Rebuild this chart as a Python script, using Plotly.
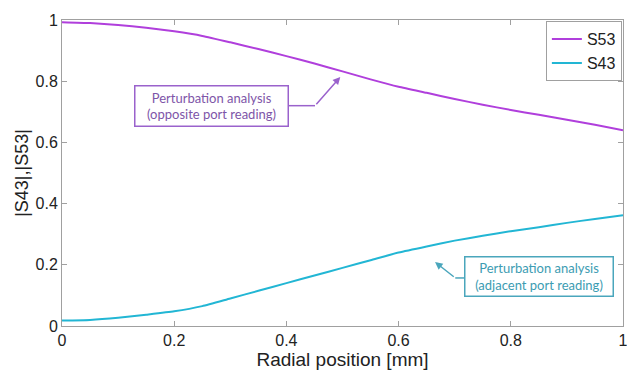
import plotly.graph_objects as go

x_mm = [0, 0.05, 0.1, 0.15, 0.2, 0.25, 0.3, 0.35, 0.4, 0.45, 0.5,
        0.55, 0.6, 0.65, 0.7, 0.75, 0.8, 0.85, 0.9, 0.95, 1.0]
s53 = [0.993, 0.990, 0.984, 0.975, 0.963, 0.948, 0.927, 0.905, 0.882, 0.858, 0.832,
       0.806, 0.782, 0.762, 0.742, 0.723, 0.706, 0.690, 0.674, 0.658, 0.640]
s43 = [0.018, 0.020, 0.027, 0.037, 0.048, 0.065, 0.090, 0.115, 0.140, 0.165, 0.190,
       0.215, 0.240, 0.260, 0.279, 0.295, 0.310, 0.323, 0.337, 0.350, 0.362]
tick_vals = [0, 0.2, 0.4, 0.6, 0.8, 1]
tick_text = ["0", "0.2", "0.4", "0.6", "0.8", "1"]

C53 = "#B03FDC"
C43 = "#22B6D4"
P_TXT = "#7E55A8"
P_BOX = "#9A62CC"
C_TXT = "#3C9CB2"
C_BOX = "#4AA6BC"

fig = go.Figure()
fig.add_trace(go.Scatter(x=x_mm, y=s53, mode="lines", name="S53",
                         line=dict(color=C53, width=2, shape="spline", smoothing=0.5)))
fig.add_trace(go.Scatter(x=x_mm, y=s43, mode="lines", name="S43",
                         line=dict(color=C43, width=2, shape="spline", smoothing=0.5)))

axis_common = dict(range=[0, 1], tickvals=tick_vals, ticktext=tick_text,
                   showgrid=False, zeroline=False, showline=True, linecolor="#A0A0A0",
                   linewidth=1, mirror="ticks", ticks="inside", ticklen=5,
                   tickcolor="#A0A0A0", automargin=False,
                   tickfont=dict(family="Liberation Sans, Arial", size=16, color="#222"))

fig.update_xaxes(**axis_common,
                 title=dict(text="Radial position [mm]", standoff=0,
                            font=dict(family="Liberation Sans, Arial", size=19, color="#222")))
fig.update_yaxes(**axis_common,
                 title=dict(text="|S43|,|S53|", standoff=2,
                            font=dict(family="Liberation Sans, Arial", size=18, color="#222")))

ann_font = "Lato, Noto Sans"
# purple annotation box
fig.add_annotation(x=0.266, y=0.719, xref="x", yref="y", showarrow=False,
                   text="Perturbation analysis<br>(opposite port reading)",
                   font=dict(family=ann_font, size=13, color=P_TXT),
                   bordercolor=P_BOX, borderwidth=1.5, borderpad=3, bgcolor="white",
                   width=146, height=33)
fig.add_shape(type="line", x0=0.402, y0=0.72, x1=0.451, y1=0.72, xref="x", yref="y",
              line=dict(color=P_BOX, width=1.5))
fig.add_annotation(x=0.496, y=0.814, ax=0.451, ay=0.72, xref="x", yref="y",
                   axref="x", ayref="y", text="", showarrow=True, arrowhead=2,
                   arrowsize=1, arrowwidth=1.5, arrowcolor=P_BOX)

# cyan annotation box
fig.add_annotation(x=0.850, y=0.163, xref="x", yref="y", showarrow=False,
                   text="Perturbation analysis<br>(adjacent port reading)",
                   font=dict(family=ann_font, size=13, color=C_TXT),
                   bordercolor=C_BOX, borderwidth=1.5, borderpad=3, bgcolor="white",
                   width=141, height=32)
fig.add_shape(type="line", x0=0.719, y0=0.157, x1=0.701, y1=0.157, xref="x", yref="y",
              line=dict(color=C_BOX, width=1.5))
fig.add_annotation(x=0.665, y=0.209, ax=0.701, ay=0.157, xref="x", yref="y",
                   axref="x", ayref="y", text="", showarrow=True, arrowhead=2,
                   arrowsize=1, arrowwidth=1.5, arrowcolor=C_BOX)

# page body has a default ~8px margin; size the figure to fit the 635x375 window
fig.update_layout(
    width=627, height=367,
    margin=dict(l=54, r=12, t=12, b=49, autoexpand=False),
    paper_bgcolor="white", plot_bgcolor="white",
    showlegend=True,
    legend=dict(x=0.998, y=0.996, xanchor="right", yanchor="top",
                bordercolor="#A0A0A0", borderwidth=1, bgcolor="white",
                font=dict(family="Liberation Sans, Arial", size=16, color="#222"),
                itemwidth=30, tracegroupgap=0),
)

fig.write_html("out.html")
